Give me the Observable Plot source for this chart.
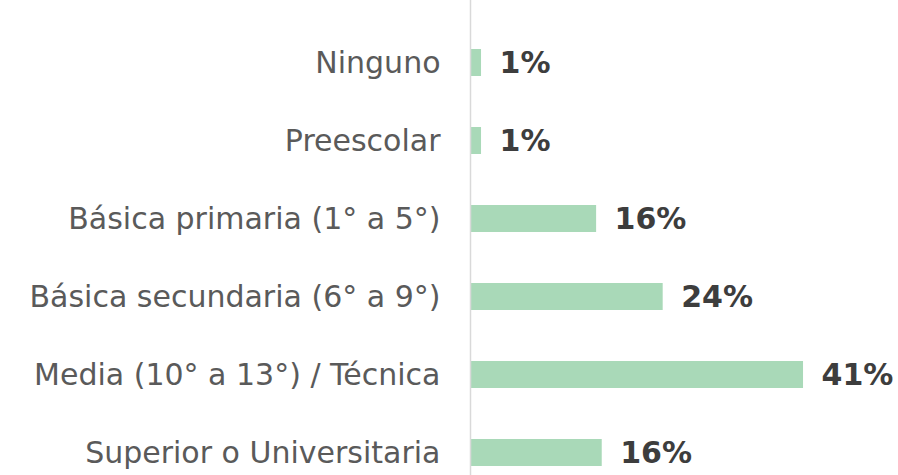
<!DOCTYPE html>
<html>
<head>
<meta charset="utf-8">
<script src="https://cdn.jsdelivr.net/npm/d3@7"></script>
<script src="https://cdn.jsdelivr.net/npm/@observablehq/plot@0.6"></script>
<style>
  html, body { margin: 0; padding: 0; background: #fff; }
  #chart svg { display: block; }
</style>
</head>
<body>
<div id="chart"></div>
<script>
const categories = [
  "Ninguno",
  "Preescolar",
  "Básica primaria (1° a 5°)",
  "Básica secundaria (6° a 9°)",
  "Media (10° a 13°) / Técnica",
  "Superior o Universitaria"
];
const values = [1.25, 1.25, 15.6, 23.9, 41.4, 16.3];
const valueLabels = ["1%", "1%", "16%", "24%", "41%", "16%"];

const data = categories.map((c, i) => ({category: c, value: values[i], label: valueLabels[i]}));

const chart = Plot.plot({
  width: 898,
  height: 475,
  marginLeft: 471,
  marginRight: 26,
  marginTop: 0,
  marginBottom: 0,
  style: {fontFamily: "DejaVu Sans, sans-serif", background: "#fff"},
  x: {domain: [0, 50], axis: null},
  y: {domain: categories, range: [22.3, 492.7], paddingInner: 0.655, paddingOuter: 0.3275, label: null},
  marks: [
    Plot.axisY({tickSize: 0, tickPadding: 31, fontSize: 30, fill: "#5a5a5a", label: null}),
    Plot.barX(data, {x: "value", y: "category", fill: "#a9d9b8"}),
    Plot.ruleX([0], {stroke: "#d9d9d9", strokeWidth: 1.5, dx: -1}),
    Plot.text(data, {x: "value", y: "category", text: "label", textAnchor: "start", dx: 18,
      fontSize: 30, fontWeight: "bold", fill: "#3d3d3d"})
  ]
});
document.getElementById("chart").appendChild(chart);
</script>
</body>
</html>
